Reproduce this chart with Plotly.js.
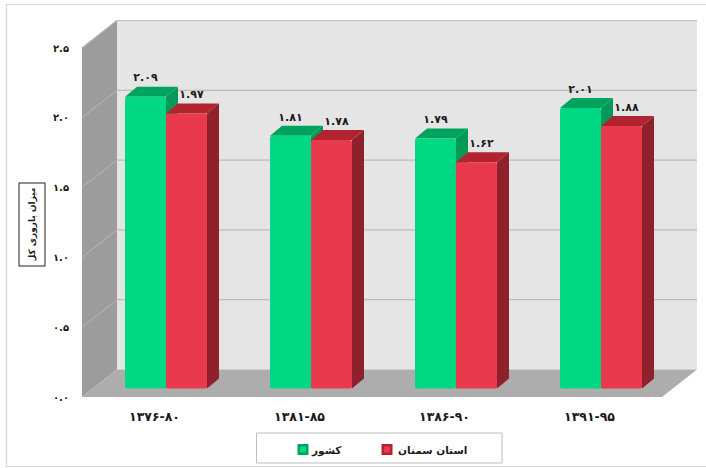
<!DOCTYPE html>
<html>
<head>
<meta charset="utf-8">
<script src="https://cdn.plot.ly/plotly-3.0.1.min.js"></script>
<style>html,body{margin:0;padding:0;background:#fff}#chart{width:706px;height:468px}</style>
</head>
<body>
<div id="chart"></div>
<script>
// ---- data ----
const categories = ['۱۳۷۶-۸۰', '۱۳۸۱-۸۵', '۱۳۸۶-۹۰', '۱۳۹۱-۹۵'];
const countryValues = [2.09, 1.81, 1.79, 2.01];
const provinceValues = [1.97, 1.78, 1.62, 1.88];
const countryName = 'کشور';
const provinceName = 'استان سمنان';
const axisTicks = [0, 0.5, 1, 1.5, 2, 2.5];
const axisTickLabels = ['۰.۰', '۰.۵', '۱.۰', '۱.۵', '۲.۰', '۲.۵'];
const yTitle = 'میزان باروری کل';

// ---- geometry of the fake 3D box, in axis units ----
const W = 706, H = 468;
const plotL = 82, plotR = 697, plotT = 19, plotB = 397;
const pxX = 145, pxY = 139.6;                 // pixels per axis unit
const wallDX = 35 / pxX, wallDY = 27.5 / pxY; // depth of the room
const barDX = 12 / pxX, barDY = 10 / pxY;     // depth of one bar
const baseY = 8.5 / pxY;                      // bars stand inside the floor
const shiftX = 11.5 / pxX;
const barW = 41 / pxX;
const x0 = -0.5, x1 = 3.5;
const xRange = [x0, x0 + (plotR - plotL) / pxX];
const yRange = [0, (plotB - plotT) / pxY];
const idx = categories.map((_, i) => i);
const FONT = 'DejaVu Sans';
const txt = '#1a1a1a';

const toFa = v => v.toFixed(2).replace(/\d/g, d => '۰۱۲۳۴۵۶۷۸۹'[+d]);

function poly(xs, ys, fill) {
  return {type:'scatter', mode:'lines', x:[...xs, xs[0]], y:[...ys, ys[0]], fill:'toself',
    fillcolor:fill, line:{width:0, color:fill}, hoverinfo:'skip', showlegend:false, xaxis:'x', yaxis:'y'};
}
function seg(xs, ys, color) {
  return {type:'scatter', mode:'lines', x:xs, y:ys, line:{width:1.2, color:color},
    hoverinfo:'skip', showlegend:false, xaxis:'x', yaxis:'y'};
}

const wallTop = axisTicks[axisTicks.length - 1];
const traces = [];
// room
traces.push(poly([x0 + wallDX, x1 + wallDX, x1 + wallDX, x0 + wallDX], [wallDY, wallDY, wallTop + wallDY, wallTop + wallDY], '#e5e5e5'));
traces.push(poly([x0, x0 + wallDX, x0 + wallDX, x0], [0, wallDY, wallTop + wallDY, wallTop], '#9c9c9c'));
traces.push(poly([x0, x1, x1 + wallDX, x0 + wallDX], [0, 0, wallDY, wallDY], '#adadad'));
axisTicks.slice(1).forEach(t => {
  traces.push(seg([x0 + wallDX, x1 + wallDX], [t + wallDY, t + wallDY], '#bcbcbc'));
  traces.push(seg([x0, x0 + wallDX], [t, t + wallDY], '#b0b0b0'));
});

// side and top faces of the bars
function faces(values, left, topCol, sideCol) {
  values.forEach((v, i) => {
    const a = i + shiftX + left, b = a + barW, y = baseY + v;
    traces.push(poly([b, b + barDX, b + barDX, b], [baseY, baseY + barDY, y + barDY, y], sideCol));
    traces.push(poly([a, b, b + barDX, a + barDX], [y, y, y + barDY, y + barDY], topCol));
  });
}
faces(countryValues, -barW, '#00a35e', '#039a58');
faces(provinceValues, 0, '#b1242f', '#8f212c');

// front faces
function bars(name, values, color) {
  return {type:'bar', name:name, x:idx.map(i => i + shiftX), y:values, base:values.map(() => baseY),
    marker:{color:color, cornerradius:2, line:{width:0}}, hoverinfo:'skip', showlegend:false, xaxis:'x2', yaxis:'y2'};
}
traces.push(bars(countryName, countryValues, '#00d884'));
traces.push(bars(provinceName, provinceValues, '#e8394d'));

// value labels
function labels(values, dx) {
  return {type:'scatter', mode:'text', x:idx.map(i => i + shiftX + dx), y:values.map(v => v + baseY + 18 / pxY),
    text:values.map(toFa), textposition:'middle center',
    textfont:{family:FONT, size:11, weight:'bold', color:txt}, hoverinfo:'skip', showlegend:false, xaxis:'x2', yaxis:'y2'};
}
traces.push(labels(countryValues, -barW / 2));
traces.push(labels(provinceValues, barW / 2 + 5 / pxX));

const fx = p => (p - plotL) / (plotR - plotL);
const fy = p => (plotB - p) / (plotB - plotT);
const hidden = {range:xRange, visible:false, fixedrange:true};

function paperRect(l, r, t, b, fill, line) {
  return {type:'rect', xref:'paper', yref:'paper', x0:fx(l), x1:fx(r), y0:fy(t), y1:fy(b),
    line:line ? {color:line, width:1} : {width:0}, fillcolor:fill, layer:'above'};
}
function swatch(l, t, dark, bright) {
  return [paperRect(l, l + 11, t, t + 11, dark), paperRect(l + 2.5, l + 8.5, t + 2.5, t + 8.5, bright)];
}
function legendText(text, left, mid) {
  return {text:text, xref:'paper', yref:'paper', x:fx(left), y:fy(mid), xanchor:'left', yanchor:'middle', showarrow:false,
    font:{family:FONT, size:10.5, weight:'bold', color:txt}};
}

const layout = {
  width:W, height:H, autosize:false,
  margin:{l:plotL, r:W - plotR, t:plotT, b:H - plotB, pad:0},
  paper_bgcolor:'#fff', plot_bgcolor:'rgba(0,0,0,0)',
  font:{family:FONT, size:11, color:txt},
  barmode:'group', bargap:1 - 2 * barW, bargroupgap:0,
  showlegend:false,
  xaxis:{type:'linear', range:xRange, tickmode:'array', tickvals:idx, ticktext:categories,
    tickfont:{family:FONT, size:12.5, weight:'bold', color:txt}, ticks:'outside', ticklen:8, tickcolor:'rgba(0,0,0,0)',
    showgrid:false, zeroline:false, showline:false, fixedrange:true},
  yaxis:{range:yRange, tickmode:'array', tickvals:axisTicks, ticktext:axisTickLabels,
    tickfont:{family:FONT, size:10, weight:'bold', color:txt}, ticks:'outside', ticklen:10, tickcolor:'rgba(0,0,0,0)',
    showgrid:false, zeroline:false, showline:false, fixedrange:true},
  xaxis2:Object.assign({overlaying:'x', anchor:'y2'}, hidden),
  yaxis2:{range:yRange, visible:false, fixedrange:true, overlaying:'y', anchor:'x2'},
  shapes:[
    {type:'rect', xref:'paper', yref:'paper', x0:fx(6.5), x1:fx(712), y0:fy(4.5), y1:fy(466.5), line:{color:'#d6d6d6', width:1.2}, fillcolor:'rgba(0,0,0,0)', layer:'below'},
    paperRect(256.5, 502, 433, 463, '#fff', '#bdbdbd'),
    ...swatch(297.5, 444, '#00a35e', '#00d884'),
    ...swatch(381.5, 444, '#b1242f', '#e8394d')
  ],
  annotations:[
    {text:yTitle, xref:'paper', yref:'paper', x:fx(31.5), y:fy(225), xanchor:'center', yanchor:'middle', textangle:-90, showarrow:false,
     width:72, height:15, font:{family:FONT, size:9, weight:'bold', color:txt}, bordercolor:'#222', borderwidth:1, borderpad:5, bgcolor:'#fff'},
    legendText(countryName, 309, 450),
    legendText(provinceName, 396, 450)
  ]
};
Plotly.newPlot('chart', traces, layout, {staticPlot:true, displayModeBar:false});
</script>
</body>
</html>
